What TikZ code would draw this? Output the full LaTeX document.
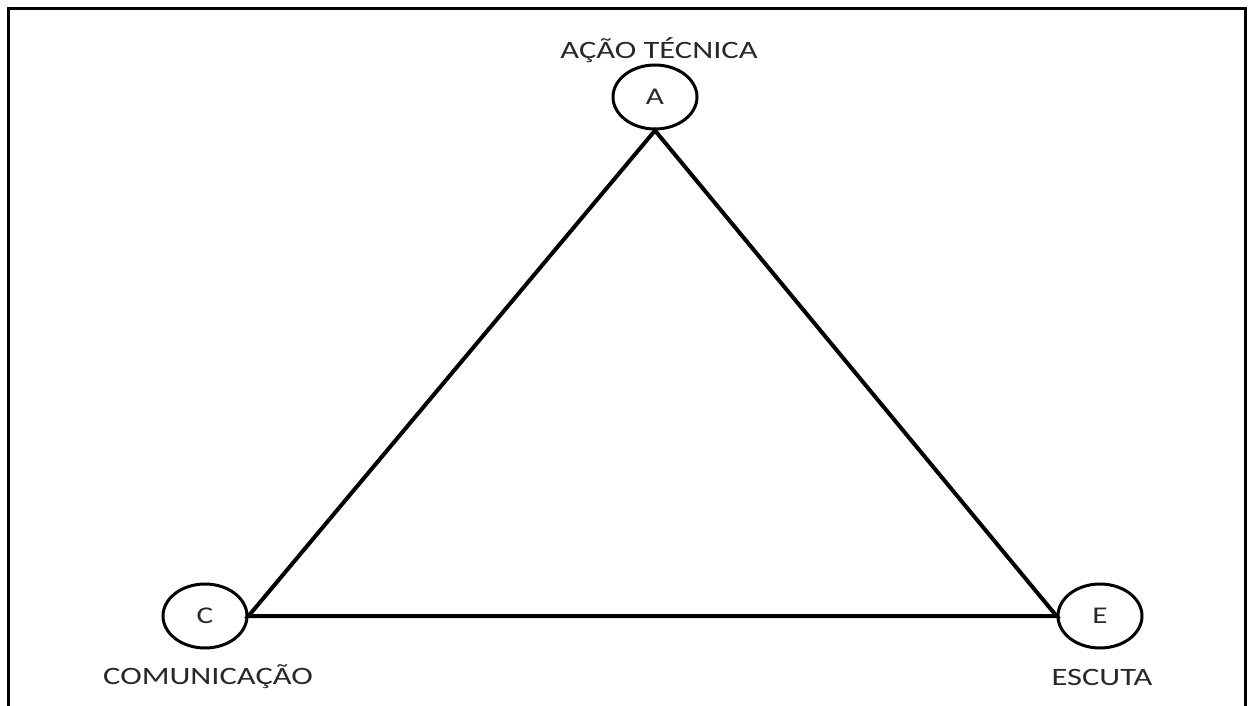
\documentclass[tikz,border=0pt]{standalone}
\usepackage{fontspec}
\setmainfont{Carlito}[FakeStretch=1.3]
\usetikzlibrary{shapes.geometric}
\definecolor{txt}{RGB}{40,40,40}
\tikzset{
  vert/.style={draw=black, line width=3pt, ellipse, minimum width=84pt, minimum height=64pt, inner sep=0pt, text=txt, font=\fontsize{24}{28}\selectfont},
  lbl/.style={text=txt, font=\fontsize{25}{30}\selectfont, inner sep=0pt},
  edge/.style={draw=black, line width=4pt, line join=miter}
}
\begin{document}
\begin{tikzpicture}[x=1pt,y=-1pt]
\useasboundingbox (0,0) rectangle (1248,706);
\draw[line width=3pt] (8,706) -- (8,9) -- (1245,9) -- (1245,706);
\node[vert] (A) at (655,97) {A};
\node[vert] (C) at (205,616) {C};
\node[vert] (E) at (1100,616) {E};
\node[lbl] (la) at (659,50) {AÇÃO TÉCNICA};
\node[lbl] (lc) at (208,677) {COMUNICAÇÃO};
\node[lbl] (le) at (1102,677) {ESCUTA};
\draw[edge] (A.south) -- (C.east) -- (E.west) -- cycle;
\end{tikzpicture}
\end{document}
